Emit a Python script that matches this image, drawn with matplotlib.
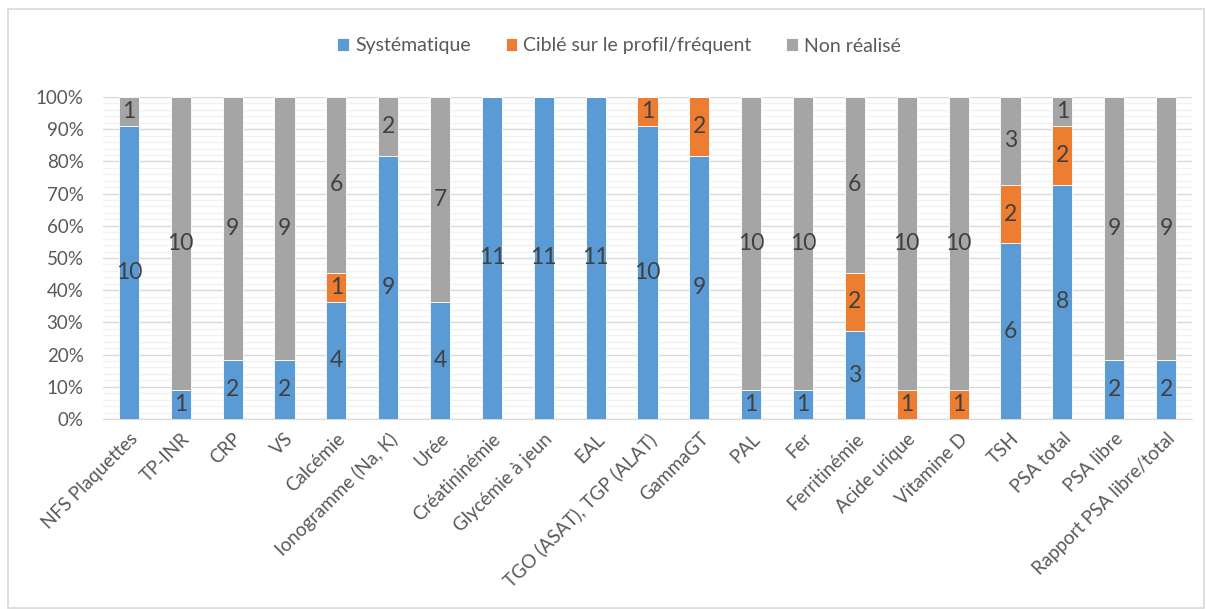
import matplotlib.pyplot as plt
import numpy as np
from matplotlib.patches import Rectangle
from matplotlib.ticker import MultipleLocator, FuncFormatter

plt.rcParams['font.family'] = ['Lato', 'DejaVu Sans']

categories = ['NFS Plaquettes', 'TP-INR', 'CRP', 'VS', 'Calcémie', 'Ionogramme (Na, K)',
              'Urée', 'Créatininémie', 'Glycémie à jeun', 'EAL', 'TGO (ASAT), TGP (ALAT)',
              'GammaGT', 'PAL', 'Fer', 'Ferritinémie', 'Acide urique', 'Vitamine D',
              'TSH', 'PSA total', 'PSA libre', 'Rapport PSA libre/total']
systematique = [10, 1, 2, 2, 4, 9, 4, 11, 11, 11, 10, 9, 1, 1, 3, 0, 0, 6, 8, 2, 2]
cible = [0, 0, 0, 0, 1, 0, 0, 0, 0, 0, 1, 2, 0, 0, 2, 1, 1, 2, 2, 0, 0]
non_realise = [1, 10, 9, 9, 6, 2, 7, 0, 0, 0, 0, 0, 10, 10, 6, 10, 10, 3, 1, 9, 9]

series = [('Systématique', systematique, '#5B9BD5'),
          ('Ciblé sur le profil/fréquent', cible, '#ED7D31'),
          ('Non réalisé', non_realise, '#A5A5A5')]

fig = plt.figure(figsize=(12.06, 6.09), dpi=100)
ax = fig.add_axes([103 / 1206, 1 - 419 / 609, (1192 - 103) / 1206, (419 - 97) / 609])

x = np.arange(len(categories))
totals = np.array(systematique) + np.array(cible) + np.array(non_realise)
bottom = np.zeros(len(categories))
for name, vals, color in series:
    vals = np.array(vals)
    pct = vals / totals * 100
    ax.bar(x, pct, bottom=bottom, width=0.39, color=color, label=name, zorder=3,
           edgecolor='white', linewidth=0.6)
    # labels with raw counts, centred in each segment
    for xi, v, p, b in zip(x, vals, pct, bottom):
        if v > 0:
            ax.text(xi, b + p / 2, str(v), ha='center', va='center', fontsize=16.5,
                    color='#404040', zorder=4)
    bottom += pct

ax.set_xlim(-0.5, len(categories) - 0.5)
ax.set_ylim(0, 100)
ax.yaxis.set_major_locator(MultipleLocator(10))
ax.yaxis.set_minor_locator(MultipleLocator(2))
ax.yaxis.set_major_formatter(FuncFormatter(lambda v, p: f'{int(v)}%'))
ax.grid(axis='y', which='major', color='#D9D9D9', linewidth=1, zorder=0)
ax.grid(axis='y', which='minor', color='#F2F2F2', linewidth=1, zorder=0)
for s in ['top', 'right', 'left']:
    ax.spines[s].set_visible(False)
ax.spines['bottom'].set_color('#D9D9D9')
ax.tick_params(axis='both', which='both', length=0, labelsize=13.5, colors='#595959')
ax.tick_params(axis='y', pad=14)
ax.set_xticks(x)
ax.set_xticklabels(categories, rotation=45, ha='right', rotation_mode='anchor')
ax.tick_params(axis='x', pad=8)

fig.legend(loc='center', bbox_to_anchor=(619 / 1206, 1 - 46 / 609), ncol=3, frameon=False,
           fontsize=14, handlelength=0.6, handleheight=0.6, handletextpad=0.3,
           columnspacing=1.8, labelcolor='#595959')

# light frame around the whole chart
fig.patches.append(Rectangle((8 / 1206, 1 / 609), 1196 / 1206, 599 / 609,
                             transform=fig.transFigure, fill=False,
                             edgecolor='#D9D9D9', linewidth=1.2))

fig.savefig('out.png', dpi=100)
